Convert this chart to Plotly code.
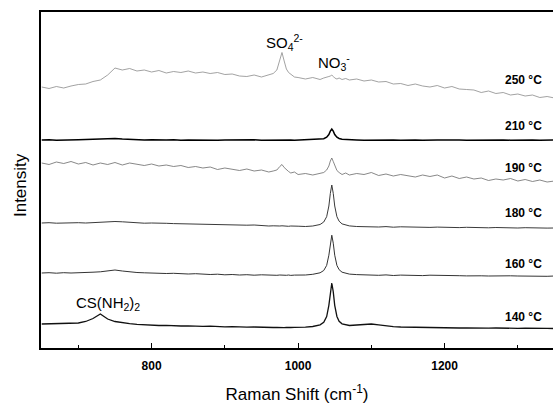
import plotly.graph_objects as go

# Raman shift grid (cm^-1)
shift = [650, 660, 670, 680, 690, 700, 710, 720, 730, 740,
         750, 760, 770, 780, 790, 800, 810, 820, 830, 840,
         850, 860, 870, 880, 890, 900, 910, 920, 930, 940,
         950, 960, 966, 971, 975, 978, 981, 984, 987, 990,
         995, 1000, 1010, 1020, 1030, 1035, 1039, 1042, 1044, 1046,
         1048, 1050, 1053, 1056, 1060, 1065, 1070, 1080, 1090, 1100,
         1110, 1120, 1130, 1140, 1150, 1160, 1170, 1180, 1190, 1200,
         1210, 1220, 1230, 1240, 1250, 1260, 1270, 1280, 1290, 1300,
         1310, 1320, 1330, 1340, 1350]

temps = ["140 °C", "160 °C", "180 °C", "190 °C", "210 °C", "250 °C"]
offsets = [24, 75, 125, 185, 208, 261]

s140 = [0, 0.2, 0, 0.3, 0.5, 1, 2.5, 5.5, 10, 5,
        2.5, 1.2, 0.3, -0.3, -0.8, -1.2, -1.5, -1.4, -1.8, -2,
        -1.8, -2.2, -2.4, -2.2, -2.6, -2.8, -2.6, -3, -3.2, -3,
        -3.4, -3.3, -3.5, -3.3, -3.6, -3.4, -3.6, -3.4, -3.7, -3.5,
        -3.3, -3.5, -3.2, -2.5, -0.9, 1.7, 7.5, 18.7, 32.1, 41,
        32.1, 18.7, 7.5, 2.7, 0.2, -1, -1.5, -1, -0.3, 0,
        -0.8, -1.8, -2.6, -3, -3.2, -3.4, -3.3, -3.6, -3.5, -3.8,
        -3.7, -4, -3.8, -4.1, -3.9, -4.2, -4, -4.3, -4.1, -4.4,
        -4.2, -4.5, -4.3, -4.4, -4.5]

s160 = [0, 0.3, -0.2, 0.3, 0, 0.5, 0.3, 0.8, 1.2, 1.8,
        3, 2, 1, 0.5, 0.2, -0.2, 0, -0.5, -0.3, -0.8,
        -1, -0.7, -1.2, -1.5, -1.2, -1.8, -1.5, -2, -1.7, -2.2,
        -1.8, -2.2, -2, -2.3, -2, -2.2, -1.9, -2.3, -2, -2.4,
        -2.1, -2.3, -2, -1.3, 0.2, 2.5, 7.6, 17.8, 29.8, 37.8,
        29.8, 17.8, 7.6, 3.3, 0.8, -0.5, -1.1, -1.6, -2, -1.7,
        -2.3, -1.9, -2.5, -2.1, -2.4, -2, -2.6, -2.2, -2.5, -2.8,
        -2.4, -2.7, -2.9, -2.5, -2.8, -3, -2.7, -3.1, -2.8, -3,
        -3.2, -2.9, -3.1, -3.3, -3]

s180 = [0, 0.3, -0.2, 0.2, 0, 0.3, 0, 0.5, 0.8, 1,
        1.5, 1.2, 0.5, 0.2, -0.2, 0, -0.5, -0.3, -0.6, -0.8,
        -0.5, -1, -1.2, -1, -1.5, -1.8, -1.5, -2, -2.2, -2,
        -2.6, -3, -2.8, -3.2, -3, -2.8, -3.2, -3, -3.3, -3,
        -3.4, -3.2, -3.5, -3, -1.5, 1, 6.3, 17, 29.6, 38,
        29.6, 17, 6.3, 1.8, -0.9, -2.2, -2.9, -3.5, -3.8, -3.5,
        -4, -3.6, -4.2, -3.8, -4, -4.3, -3.9, -4.4, -4.1, -4.5,
        -4.2, -4.6, -4.3, -4.7, -4.4, -4.8, -4.5, -4.9, -4.6, -5,
        -4.7, -5, -4.8, -5.1, -5]

s190 = [0, -1.5, 1, -0.5, 1.5, -1, 0.5, -2, 0, -1.5,
        0.5, -2, 0, -1, -2.5, -1, -3, -2, -3.5, -2.5,
        -4.5, -3.5, -5, -4, -6.5, -5, -6, -7.5, -6, -8,
        -7, -9, -8, -7, -3.5, -1.5, -4.5, -7, -8.5, -10,
        -9, -11.5, -10.5, -12, -10, -9.5, -7, -3, 2, 5,
        1.5, -3, -7.5, -9.5, -11.5, -10, -12, -10.5, -11.5, -9.5,
        -12.5, -11, -13, -11.5, -12.5, -14, -12, -13.5, -12, -15,
        -13, -15.5, -14, -16, -15, -17.5, -16, -17, -15.5, -18,
        -16.5, -18.5, -17, -19, -18]

s210 = [0, 0.3, -0.2, 0.2, 0, 0.3, 0.5, 0.8, 1, 1.3,
        1.5, 1, 0.5, 0.3, 0, 0.2, -0.2, 0, 0.2, -0.3,
        0, -0.2, 0.2, 0, -0.3, 0, 0.2, -0.2, 0, 0.2,
        -0.2, 0, 0.1, -0.2, 0, 0.2, 0, -0.1, 0.1, 0,
        -0.2, 0, 0.2, 0.3, 0.7, 1.3, 2.8, 5.5, 8.8, 11,
        8.8, 5.5, 2.8, 1.5, 0.8, 0.5, 0.3, 0.1, -0.2, 0,
        0.2, -0.1, 0, -0.2, 0.1, 0, -0.2, 0.2, 0, -0.1,
        0.2, 0, -0.2, 0, 0.2, -0.1, 0, 0.1, -0.2, 0,
        0.2, 0, -0.2, 0, 0.1]

s250 = [0, -1.5, 0.5, -1, 1, 2.5, 3, 5.5, 7, 12,
        19, 17, 18.5, 16, 17, 15, 16.5, 14, 15.5, 14.5,
        16, 14, 15, 13.5, 14.5, 12.5, 13, 11, 10.5, 12,
        10, 12.5, 13.5, 17, 26, 34.5, 26, 18, 14.5, 12.5,
        10, 9.5, 8, 9.5, 7.5, 9, 9.5, 10.5, 11, 12,
        10.5, 9, 8, 9, 7.5, 8.5, 7, 8, 6, 7,
        5, 5.5, 3, 3.5, 1.5, 3, 1, 0, 1.5, -1,
        0.5, -2, -2.5, -3, -5.5, -4, -6.5, -5.5, -8, -7,
        -9, -8, -10.5, -9.5, -11]

spectra = [s140, s160, s180, s190, s210, s250]
line_colors = ["#111111", "#333333", "#3a3a3a", "#6a6a6a", "#000000", "#8a8a8a"]
line_widths = [1.3, 1.0, 1.0, 0.8, 1.5, 0.8]

label_y = [31, 84, 135, 180, 222, 268]

fig = go.Figure()
for name, s, off, c, w in zip(temps, spectra, offsets, line_colors, line_widths):
    fig.add_trace(go.Scatter(x=shift, y=[v + off for v in s], mode="lines",
                             line=dict(color=c, width=w), name=name,
                             showlegend=False))

font_fam = "Liberation Sans, Arial, sans-serif"
for name, ly in zip(temps, label_y):
    fig.add_annotation(x=1308, y=ly, xref="x", yref="y", text=name,
                       showarrow=False,
                       font=dict(family=font_fam, size=12, color="black", weight="bold"))

fig.add_annotation(x=982, y=306, xref="x", yref="y",
                   text="SO<sub>4</sub><sup>2-</sup>", showarrow=False,
                   font=dict(family=font_fam, size=15, color="black"))
fig.add_annotation(x=1049, y=286, xref="x", yref="y",
                   text="NO<sub>3</sub><sup>-</sup>", showarrow=False,
                   font=dict(family=font_fam, size=15, color="black"))
fig.add_annotation(x=740, y=45, xref="x", yref="y",
                   text="CS(NH<sub>2</sub>)<sub>2</sub>", showarrow=False,
                   font=dict(family=font_fam, size=15, color="black"))

# y-axis title
fig.add_annotation(x=-0.041, y=0.485, xref="paper", yref="paper",
                   xanchor="center", yanchor="middle",
                   text="Intensity", textangle=-90, showarrow=False,
                   font=dict(family=font_fam, size=17, color="black"))

fig.update_layout(
    width=553, height=404,
    margin=dict(l=41, r=0, t=12, b=56),
    plot_bgcolor="white", paper_bgcolor="white",
    font=dict(family=font_fam, color="black"),
    xaxis=dict(range=[649, 1348], showgrid=False, zeroline=False, automargin=False,
               showline=True, linecolor="black", linewidth=2, mirror=True,
               ticks="inside", ticklen=5, tickwidth=1.2, tickcolor="black",
               tick0=0, dtick=200, ticklabelstandoff=6,
               tickfont=dict(family=font_fam, size=12, weight="bold"),
               minor=dict(ticks="inside", ticklen=3, dtick=100, tick0=0,
                          tickcolor="black", tickwidth=1),
               title=dict(text="Raman Shift (cm<sup>-1</sup>)",
                          font=dict(family=font_fam, size=17), standoff=17)),
    yaxis=dict(range=[0, 336], showgrid=False, zeroline=False, automargin=False,
               showline=True, linecolor="black", linewidth=1.5,
               showticklabels=False, ticks=""),
)

fig.write_html("out.html", config={"displayModeBar": False},
               post_script="document.body.style.margin='0';document.body.style.overflow='hidden';")
